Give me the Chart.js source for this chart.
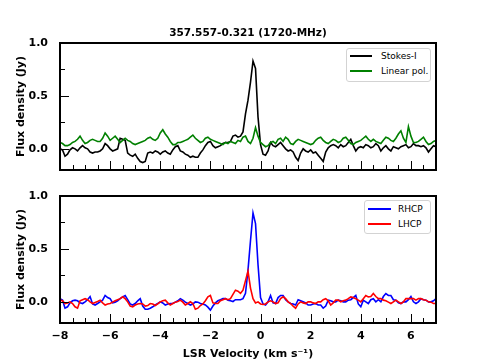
<!DOCTYPE html>
<html>
<head>
<meta charset="utf-8">
<script src="https://cdn.jsdelivr.net/npm/chart.js@4.4.1/dist/chart.umd.min.js"></script>
<style>
html,body{margin:0;padding:0;background:#fff;}
#wrap{position:relative;width:484px;height:363px;overflow:hidden;background:#fff;}
.pane{position:absolute;left:0;width:484px;}
#p1{top:0;height:182px;}
#p2{top:182px;height:181px;}
#title{position:absolute;left:60px;width:376px;top:26px;height:12px;line-height:12px;text-align:center;font-family:"DejaVu Sans",sans-serif;font-weight:bold;font-size:10.5px;color:#000;white-space:nowrap;}
.legend{position:absolute;background:#fff;border:1px solid #d3d3d3;border-radius:3px;box-sizing:border-box;font-family:"DejaVu Sans",sans-serif;font-size:9px;color:#000;}
.legend .ln{position:absolute;height:2px;}
.legend .tx{position:absolute;line-height:12px;height:12px;white-space:nowrap;}
</style>
</head>
<body>
<div id="wrap">
  <div class="pane" id="p1"><canvas id="c1" width="484" height="182"></canvas></div>
  <div class="pane" id="p2"><canvas id="c2" width="484" height="181"></canvas></div>
  <div id="title"></div>
  <div class="legend" id="lg1" style="left:346px;top:48px;width:85px;height:34px;"></div>
  <div class="legend" id="lg2" style="left:364px;top:200px;width:67px;height:34px;"></div>
</div>
<script>
// ---------------- data ----------------
const titleText = '357.557-0.321 (1720-MHz)';
const xAxisTitle = 'LSR Velocity (km s\u207B\u00B9)';
const yAxisTitle = 'Flux density (Jy)';

// channel grid (km/s)
const vStart = -8.0;
const vStep = 0.1;

const stokesI = [
 0.00,-0.01,-0.07,-0.05,-0.01, 0.01, 0.00,-0.02, 0.01, 0.03,
 0.01, 0.00,-0.03,-0.04,-0.03,-0.03,-0.02, 0.00, 0.05, 0.03,
 0.00,-0.02,-0.01, 0.00, 0.10, 0.09, 0.08,-0.04,-0.06,-0.07,
-0.05,-0.09,-0.12,-0.13,-0.12,-0.04,-0.03,-0.04,-0.02,-0.03,
-0.05,-0.03,-0.02,-0.04,-0.05,-0.01, 0.02, 0.03,-0.02,-0.03,
-0.05,-0.06,-0.08,-0.07,-0.08,-0.08,-0.04,-0.01, 0.03, 0.06,
 0.07, 0.03, 0.01, 0.02, 0.03, 0.05, 0.06, 0.06, 0.07, 0.12,
 0.13, 0.11, 0.12, 0.16, 0.33, 0.46, 0.63, 0.83, 0.76, 0.30,
 0.04,-0.05,-0.06,-0.02, 0.06, 0.03, 0.02, 0.04, 0.06, 0.03,
 0.00,-0.02,-0.01,-0.03,-0.08,-0.11,-0.04, 0.00,-0.02,-0.03,
-0.01,-0.04,-0.03,-0.06,-0.09,-0.12,-0.03, 0.01, 0.03, 0.04,
 0.03, 0.01, 0.04, 0.02, 0.03, 0.06, 0.09, 0.03,-0.02, 0.01,
 0.02, 0.01, 0.04, 0.03, 0.01, 0.02, 0.05, 0.03,-0.02, 0.01,
 0.03, 0.00,-0.02, 0.02, 0.01, 0.00, 0.02, 0.03, 0.04, 0.01,
 0.02, 0.05, 0.03, 0.03, 0.02, 0.03, 0.01,-0.03, 0.00, 0.03,
 0.02
];

const linearPol = [
 0.06, 0.05, 0.03, 0.03, 0.04, 0.06, 0.07, 0.09, 0.12, 0.08,
 0.05, 0.06, 0.08, 0.09, 0.08, 0.07, 0.07, 0.10, 0.15, 0.12,
 0.08, 0.10, 0.12, 0.09, 0.06, 0.08, 0.10, 0.08, 0.07, 0.05,
 0.04, 0.05, 0.06, 0.07, 0.08, 0.10, 0.11, 0.09, 0.08, 0.10,
 0.15, 0.18, 0.14, 0.11, 0.07, 0.04, 0.04, 0.06, 0.06, 0.07,
 0.08, 0.09, 0.11, 0.13, 0.10, 0.08, 0.06, 0.07, 0.10, 0.11,
 0.09, 0.08, 0.07, 0.06, 0.05, 0.04, 0.06, 0.05, 0.07, 0.06,
 0.05, 0.08, 0.07, 0.11, 0.12, 0.07, 0.05, 0.10, 0.20, 0.12,
 0.06, 0.04, 0.02, 0.03, 0.06, 0.07, 0.05, 0.09, 0.10, 0.07,
 0.11, 0.09, 0.05, 0.04, 0.07, 0.09, 0.08, 0.07, 0.06, 0.05,
 0.04, 0.05, 0.08, 0.10, 0.11, 0.08, 0.06, 0.05, 0.07, 0.09,
 0.08, 0.06, 0.07, 0.10, 0.11, 0.08, 0.05, 0.04, 0.06, 0.07,
 0.08, 0.10, 0.12, 0.09, 0.07, 0.09, 0.07, 0.06, 0.05, 0.08,
 0.11, 0.10, 0.08, 0.07, 0.10, 0.14, 0.17, 0.10, 0.06, 0.21,
 0.12, 0.06, 0.06, 0.07, 0.09, 0.11, 0.07, 0.04, 0.05, 0.07,
 0.08
];

const rhcp = [
 0.03, 0.016,-0.06,-0.047,-0.01, 0.01, 0.016, 0.01,-0.01,-0.016,
 0.00, 0.02, 0.05,-0.02,-0.03,-0.016, 0.00, 0.016, 0.06, 0.04,
 0.03,-0.01,-0.003, 0.01, 0.03, 0.047, 0.06, 0.02,-0.02,-0.03,
-0.016, 0.01, 0.03,-0.04,-0.07,-0.07,-0.06,-0.047,-0.03,-0.016,
 0.00,-0.01,-0.03,-0.02,-0.016,-0.016,-0.003, 0.01, 0.03, 0.016,
-0.003,-0.016,-0.03,-0.02, 0.00,-0.003,-0.016,-0.02,-0.03,-0.05,
-0.078,-0.04,-0.01, 0.01, 0.02, 0.03, 0.03, 0.016, 0.01, 0.003,
 0.02, 0.02, 0.02, 0.03, 0.08, 0.30, 0.58, 0.84, 0.74, 0.35,
 0.04,-0.02,-0.03, 0.00, 0.06,-0.01,-0.016, 0.04, 0.06, 0.06,
 0.02, 0.00,-0.015,-0.02,-0.03, 0.02, 0.01, 0.00,-0.01,-0.03,
-0.03,-0.02,-0.016,-0.03,-0.03,-0.06,-0.04, 0.016, 0.01, 0.00,
 0.00, 0.016, 0.01, 0.00, 0.00, 0.016, 0.02, 0.04, 0.06,-0.02,
-0.047, 0.016, 0.00,-0.016, 0.02, 0.03, 0.00, 0.02, 0.00, 0.05,
 0.078, 0.06, 0.06, 0.02, 0.016,-0.01,-0.016, 0.00, 0.00, 0.02,
 0.05, 0.00,-0.016, 0.00, 0.03, 0.02, 0.016, 0.00, 0.00, 0.01,
 0.03
];

const lhcp = [
 0.016, 0.01,-0.016,-0.01, 0.00,-0.016,-0.047,-0.06, 0.01, 0.02,
 0.03, 0.02, 0.00,-0.016,-0.006, 0.003, 0.016,-0.01,-0.03,-0.02,
-0.016,-0.003, 0.01, 0.02, 0.03, 0.047, 0.03, 0.00,-0.04,-0.047,
-0.03,-0.02,-0.016,-0.02,-0.04,-0.035,-0.016,-0.02,-0.035,-0.02,
 0.00, 0.01, 0.016,-0.01,-0.03,-0.016,-0.003, 0.003, 0.016,-0.003,
-0.03,-0.016, 0.00,-0.016,-0.07,-0.06,-0.035,-0.02, 0.01, 0.047,
 0.06,-0.01,-0.016,-0.016, 0.01, 0.02, 0.03, 0.02, 0.03, 0.07,
 0.11, 0.10, 0.08, 0.11, 0.20, 0.29, 0.13, 0.03,-0.01, 0.00,
-0.02,-0.025,-0.02, 0.00, 0.01, 0.00,-0.016,-0.01, 0.03, 0.047,
 0.03, 0.00,-0.016,-0.04,-0.06,-0.02, 0.00,-0.01,-0.016, 0.00,
 0.00,-0.01,-0.016, 0.00, 0.00, 0.02, 0.03, 0.01,-0.03,-0.01,
 0.016, 0.016, 0.00, 0.01, 0.016, 0.03, 0.047, 0.04, 0.03, 0.016,
 0.00, 0.03, 0.06, 0.047, 0.05, 0.078, 0.05, 0.03, 0.03, 0.016,
 0.01,-0.003,-0.016, 0.00, 0.016, 0.00,-0.016, 0.00, 0.03, 0.03,
 0.03, 0.03, 0.016, 0.03, 0.03, 0.02, 0.016, 0.00,-0.003,-0.016,
-0.016
];

const xMajorTicks = [-8, -6, -4, -2, 0, 2, 4, 6];
const xMinorTicks = [-7.5,-7,-6.5,-5.5,-5,-4.5,-3.5,-3,-2.5,-1.5,-1,-0.5,0.5,1,1.5,2.5,3,3.5,4.5,5,5.5,6.5];
const yMajorTicks = [0.0, 0.5, 1.0];
const yMinorTicks = [0.25, 0.75];
const xRange = [-8, 7];
const yRange = [-0.2, 1.0];

// ---------------- helpers ----------------
const velocity = stokesI.map((_, i) => +(vStart + vStep * i).toFixed(2));
const pts = arr => arr.map((y, i) => ({x: velocity[i], y}));

document.getElementById('title').textContent = titleText;

Chart.defaults.color = '#000';
Chart.defaults.font.family = '"DejaVu Sans", sans-serif';

const boldFont = {family: '"DejaVu Sans", sans-serif', size: 11, weight: 'bold'};

const frameTicks = {
  id: 'frameTicks',
  afterDraw(chart) {
    const {ctx, chartArea: {left, right, top, bottom}, scales: {x, y}} = chart;
    ctx.save();
    ctx.strokeStyle = '#000';
    ctx.lineWidth = 1;
    ctx.beginPath();
    const xt = (v, len) => { const p = Math.round(x.getPixelForValue(v)) + 0.5; ctx.moveTo(p, bottom); ctx.lineTo(p, bottom - len); };
    const yt = (v, len) => { const p = Math.round(y.getPixelForValue(v)) + 0.5; ctx.moveTo(left, p); ctx.lineTo(left + len, p); };
    xMinorTicks.forEach(v => xt(v, 5));
    xMajorTicks.forEach(v => xt(v, 9));
    yMinorTicks.forEach(v => yt(v, 5));
    yMajorTicks.forEach(v => yt(v, 9));
    ctx.stroke();
    ctx.lineWidth = 2;
    ctx.strokeRect(left, top, right - left, bottom - top);
    ctx.restore();
  }
};

function yScale() {
  return {
    type: 'linear',
    min: yRange[0], max: yRange[1],
    afterFit: s => { s.width = 60; },
    afterBuildTicks: s => { s.ticks = yMajorTicks.map(v => ({value: v})); },
    grid: {display: false},
    border: {display: false},
    ticks: {padding: 4, font: boldFont, callback: v => Number(v).toFixed(1)},
    title: {display: true, text: yAxisTitle, font: boldFont, padding: {top: 14.4, bottom: 0}}
  };
}

const minusFmt = v => (v < 0 ? '\u2212' : '') + Math.abs(v);

const common = {
  responsive: false,
  animation: false,
  devicePixelRatio: 1,
  elements: {point: {radius: 0}, line: {tension: 0, borderWidth: 1.6}},
};

const chart1 = new Chart(document.getElementById('c1'), {
  type: 'line',
  data: {
    datasets: [
      {label: 'Stokes-I', data: pts(stokesI), borderColor: '#000000', backgroundColor: '#000000', order: 1},
      {label: 'Linear pol.', data: pts(linearPol), borderColor: '#008000', backgroundColor: '#008000', order: 0}
    ]
  },
  options: Object.assign({}, common, {
    layout: {padding: {left: 0, right: 48, top: 43, bottom: 12}},
    plugins: {legend: {display: false}, tooltip: {enabled: false}},
    scales: {
      x: {type: 'linear', min: xRange[0], max: xRange[1], display: false},
      y: yScale()
    }
  }),
  plugins: [frameTicks]
});

const chart2 = new Chart(document.getElementById('c2'), {
  type: 'line',
  data: {
    datasets: [
      {label: 'RHCP', data: pts(rhcp), borderColor: '#0000ff', backgroundColor: '#0000ff', order: 1},
      {label: 'LHCP', data: pts(lhcp), borderColor: '#ff0000', backgroundColor: '#ff0000', order: 0}
    ]
  },
  options: Object.assign({}, common, {
    layout: {padding: {left: 0, right: 48, top: 14, bottom: 0}},
    plugins: {legend: {display: false}, tooltip: {enabled: false}},
    scales: {
      x: {
        type: 'linear', min: xRange[0], max: xRange[1],
        afterFit: s => { s.height = 40; },
        afterBuildTicks: s => { s.ticks = xMajorTicks.map(v => ({value: v})); },
        grid: {display: false},
        border: {display: false},
        ticks: {padding: -1, font: boldFont, maxRotation: 0, callback: minusFmt},
        title: {display: true, text: xAxisTitle, font: boldFont, padding: {top: 0, bottom: 2.4}}
      },
      y: yScale()
    }
  }),
  plugins: [frameTicks]
});

function buildLegend(el, chart, rows, lineLeft, lineW, textLeft) {
  chart.data.datasets.forEach((ds, i) => {
    const ln = document.createElement('div');
    ln.className = 'ln';
    ln.style.left = lineLeft + 'px';
    ln.style.width = lineW + 'px';
    ln.style.top = (rows[i] - 1) + 'px';
    ln.style.background = ds.borderColor;
    el.appendChild(ln);
    const tx = document.createElement('div');
    tx.className = 'tx';
    tx.style.left = textLeft + 'px';
    tx.style.top = (rows[i] - 6) + 'px';
    tx.textContent = ds.label;
    el.appendChild(tx);
  });
}
buildLegend(document.getElementById('lg1'), chart1, [6.7, 21.7], 3, 22, 34);
buildLegend(document.getElementById('lg2'), chart2, [7.7, 22.7], 3.3, 22.7, 33);
</script>
</body>
</html>
